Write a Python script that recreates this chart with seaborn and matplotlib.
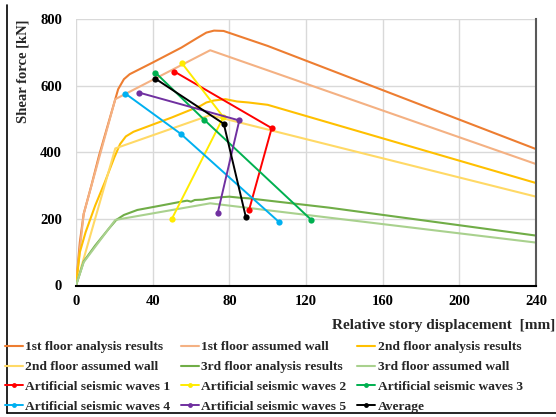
import matplotlib
matplotlib.use("Agg")
import matplotlib.pyplot as plt
import seaborn as sns
import pandas as pd
from matplotlib.lines import Line2D

# ---- story shear vs. relative displacement curves ----
f1_result_x = [0, 2, 4, 8, 12, 16, 19, 22, 25, 28, 40, 55, 63, 68, 72, 77, 100, 240]
f1_result_y = [0, 130, 215, 300, 390, 470, 530, 590, 620, 635, 670, 715, 743, 760, 766, 765, 720, 410]

f1_wall_x = [0, 4, 20.5, 70, 240]
f1_wall_y = [0, 215, 560, 707, 365]

f2_result_x = [0, 2, 5, 10, 15, 20, 23, 26, 30, 50, 65, 68, 72, 78, 84, 90, 100, 240]
f2_result_y = [0, 100, 160, 240, 310, 385, 425, 448, 462, 505, 540, 550, 556, 560, 553, 550, 543, 308]

f2_wall_x = [0, 20.5, 70, 240]
f2_wall_y = [0, 412, 512, 267]

f3_result_x = [0, 4, 10, 17, 21, 25, 32, 45, 55, 58, 60, 62, 66, 70, 75, 80, 85, 90, 132, 240]
f3_result_y = [0, 72, 120, 170, 197, 212, 227, 241, 252, 255, 252, 257, 258, 262, 265, 267, 264, 262, 234, 150]

f3_wall_x = [0, 4, 20.5, 70, 240]
f3_wall_y = [0, 70, 197, 247, 129]

# ---- artificial seismic wave responses ----
wave1_x = [51.3, 102.1, 90.3]
wave1_y = [643, 473, 227]
wave2_x = [55.3, 76.9, 49.9]
wave2_y = [668, 506, 199]
wave3_x = [41.4, 66.9, 122.8]
wave3_y = [640, 498, 197]
wave4_x = [25.7, 54.6, 105.9]
wave4_y = [577, 456, 191]
wave5_x = [32.7, 85.2, 73.9]
wave5_y = [580, 496, 217]
avg_x = [41.3, 77.1, 88.6]
avg_y = [622, 486, 206]

x_ticks = [0, 40, 80, 120, 160, 200, 240]
y_ticks = [0, 200, 400, 600, 800]

curves = [
    ("1st floor analysis results", f1_result_x, f1_result_y, "#ED7D31"),
    ("1st floor assumed wall", f1_wall_x, f1_wall_y, "#F4B183"),
    ("2nd floor analysis results", f2_result_x, f2_result_y, "#FFC000"),
    ("2nd floor assumed wall", f2_wall_x, f2_wall_y, "#FFD966"),
    ("3rd floor analysis results", f3_result_x, f3_result_y, "#70AD47"),
    ("3rd floor assumed wall", f3_wall_x, f3_wall_y, "#A9D18E"),
]
waves = [
    ("Artificial seismic waves 1", wave1_x, wave1_y, "#FF0000"),
    ("Artificial seismic waves 2", wave2_x, wave2_y, "#FFEB00"),
    ("Artificial seismic waves 3", wave3_x, wave3_y, "#00B050"),
    ("Artificial seismic waves 4", wave4_x, wave4_y, "#00B0F0"),
    ("Artificial seismic waves 5", wave5_x, wave5_y, "#7030A0"),
    ("Average", avg_x, avg_y, "#000000"),
]

sns.set_theme(style="white")
plt.rcParams["font.family"] = ["Liberation Serif", "DejaVu Serif"]
plt.rcParams["font.weight"] = "bold"

fig = plt.figure(figsize=(5.56, 4.17), dpi=100)
ax = fig.add_axes([76 / 556, 1 - 285.5 / 417, 460 / 556, (285.5 - 19.3) / 417])

handles = []
for name, xs, ys, col in curves:
    df = pd.DataFrame({"x": xs, "y": ys})
    sns.lineplot(data=df, x="x", y="y", sort=False, estimator=None,
                 color=col, linewidth=1.5, ax=ax)
    handles.append(Line2D([], [], color=col, linewidth=1.5, label=name))

for name, xs, ys, col in waves:
    df = pd.DataFrame({"x": xs, "y": ys})
    sns.lineplot(data=df, x="x", y="y", sort=False, estimator=None,
                 color=col, linewidth=1.4, marker="o", markersize=4.5,
                 markeredgewidth=0, ax=ax, zorder=5)
    handles.append(Line2D([], [], color=col, linewidth=1.4, marker="o",
                          markersize=3.5, markeredgewidth=0, label=name))

ax.set_xlim(0, 240)
ax.set_ylim(0, 800)
ax.set_xticks(x_ticks)
ax.set_yticks(y_ticks)
ax.set_xticklabels([str(v) for v in x_ticks], fontsize=10.5, fontweight="bold")
ax.set_yticklabels([str(v) for v in y_ticks], fontsize=10.5, fontweight="bold")
ax.tick_params(axis="both", length=0, colors="black")
ax.tick_params(axis="y", pad=10)
ax.tick_params(axis="x", pad=7)
ax.grid(True, color="#D9D9D9", linewidth=1.0)
ax.set_axisbelow(True)

ax.spines["top"].set_visible(False)
ax.spines["left"].set_visible(False)
ax.spines["right"].set_color("#595959")
ax.spines["right"].set_linewidth(1.5)
ax.spines["bottom"].set_color("black")
ax.spines["bottom"].set_linewidth(1.5)

ax.set_xlabel("")
ax.set_ylabel("Shear force [kN]", fontsize=10.5, fontweight="bold", loc="top")
ax.yaxis.set_label_coords(-0.102, 1.0)
fig.text(555 / 556, 1 - 325 / 417, "Relative story displacement  [mm]",
         ha="right", va="center", fontsize=11, fontweight="bold")

# legend laid out row by row in three columns
order = [0, 3, 6, 9, 1, 4, 7, 10, 2, 5, 8, 11]
leg = fig.legend([handles[i] for i in order],
                 [handles[i].get_label() for i in order],
                 ncol=3, loc="upper left", bbox_to_anchor=(5 / 556, 1 - 341 / 417),
                 frameon=False, prop={"family": "Liberation Serif", "weight": "bold", "size": 9.7},
                 handlelength=1.3, handletextpad=0.2, columnspacing=0.8,
                 labelspacing=0.55, borderpad=0.0, borderaxespad=0.0)

# outer frame
fig.add_artist(Line2D([7 / 556, 7 / 556], [1 - 413 / 417, 1 - 5 / 417],
                      transform=fig.transFigure, color="black", linewidth=1.2))
fig.add_artist(Line2D([7 / 556, 1.0], [1 - 413 / 417, 1 - 413 / 417],
                      transform=fig.transFigure, color="black", linewidth=1.2))

fig.savefig("out.png", dpi=100)
